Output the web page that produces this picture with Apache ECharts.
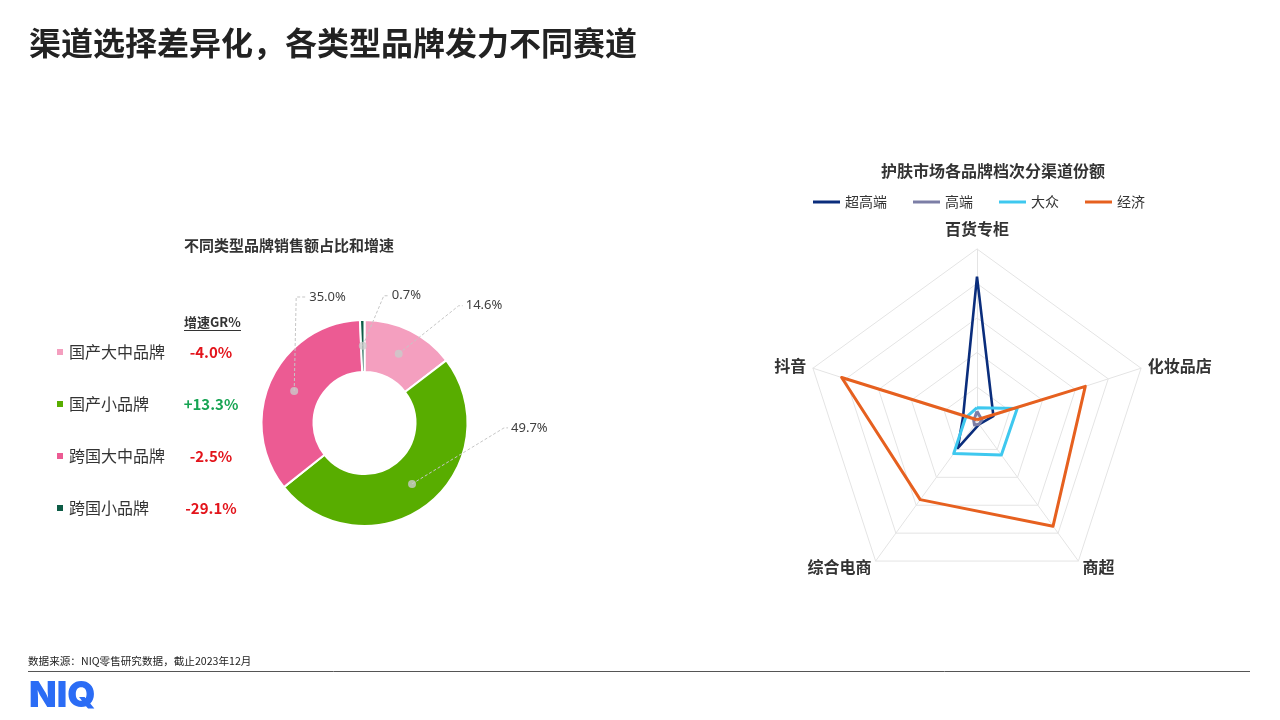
<!DOCTYPE html>
<html><head><meta charset="utf-8">
<script src="https://cdn.jsdelivr.net/npm/echarts@6/dist/echarts.min.js"></script>
<style>html,body{margin:0;padding:0;background:#fff}#c{width:1280px;height:720px}</style>
</head><body><div id="c"></div>
<script>
// ---------- data ----------
const brandNames = ['国产大中品牌', '国产小品牌', '跨国大中品牌', '跨国小品牌'];
const brandShare = [14.6, 49.7, 35.0, 0.7];
const brandGrowth = [-4.0, 13.3, -2.5, -29.1];

const channels = ['百货专柜', '抖音', '综合电商', '商超', '化妆品店'];
const tierNames = ['超高端', '高端', '大众', '经济'];
const tierSuperPremium = [84, 8.5, 19, 2, 10];
const tierPremium = [6, 2, 2.5, 2, 3];
const tierMass = [8, 7, 23, 24, 24.5];
const tierEconomy = [1, 82.5, 56, 75, 66];

// ---------- styles ----------
const FONT = '"Noto Sans CJK SC", "Noto Sans", sans-serif';
const brandColors = ['#f49fbf', '#58ad00', '#ec5b93', '#0d5c46'];
const tierColors = ['#0a2d7c', '#7c7ea6', '#3ec8ef', '#e6601f'];
const donutCenter = [364.5, 423];
const donutRadius = [51, 103];
const dotRatio = 0.75;
const labelOffsets = [
  { bend: [60, -48], end: [64, -48] },
  { bend: [92, -56], end: [96, -56] },
  { bend: [2, -94], end: [12, -94] },
  { bend: [21, -50], end: [26, -50] }
];

const total = brandShare.reduce((a, b) => a + b, 0);
let acc = 0;
const dotData = brandShare.map(v => { const mid = acc + v / 2; acc += v; return [dotRatio, mid]; });
const tierValues = [tierSuperPremium, tierPremium, tierMass, tierEconomy];

const chart = echarts.init(document.getElementById('c'), null, { renderer: 'canvas' });

chart.setOption({
  animation: false,
  textStyle: { fontFamily: FONT },
  title: [
    { text: '渠道选择差异化，各类型品牌发力不同赛道', left: 29, top: 27, padding: 0,
      textStyle: { fontSize: 32, fontWeight: 'bold', color: '#222', fontFamily: FONT } },
    { text: '不同类型品牌销售额占比和增速', left: 184, top: 238, padding: 0,
      textStyle: { fontSize: 15, fontWeight: 'bold', color: '#333', fontFamily: FONT } },
    { text: '护肤市场各品牌档次分渠道份额', left: 881, top: 163, padding: 0,
      textStyle: { fontSize: 16, fontWeight: 'bold', color: '#333', fontFamily: FONT } },
    { text: '增速GR%', left: 184, top: 316, padding: 0,
      textStyle: { fontSize: 13, fontWeight: 'bold', color: '#333', fontFamily: FONT } },
    { text: '数据来源：NIQ零售研究数据，截止2023年12月', left: 28, top: 656, padding: 0,
      textStyle: { fontSize: 10.6, fontWeight: 'normal', color: '#222', fontFamily: FONT } }
  ],
  legend: [
    {
      data: brandNames, orient: 'vertical', left: 55, top: 344, itemGap: 36, padding: 0,
      icon: 'rect', itemWidth: 8, itemHeight: 8, selectedMode: false,
      formatter: function (name) {
        const g = brandGrowth[brandNames.indexOf(name)];
        const txt = (g > 0 ? '+' : '') + g.toFixed(1) + '%';
        return '{n|' + name + '}{' + (g > 0 ? 'up' : 'dn') + '|' + txt + '}';
      },
      textStyle: {
        rich: {
          n: { width: 112, fontSize: 16, color: '#333', fontFamily: FONT, lineHeight: 18 },
          up: { width: 60, align: 'center', fontSize: 15, fontWeight: 'bold', color: '#17a453', fontFamily: FONT, lineHeight: 18 },
          dn: { width: 60, align: 'center', fontSize: 15, fontWeight: 'bold', color: '#e3141b', fontFamily: FONT, lineHeight: 18 }
        }
      }
    },
    {
      data: tierNames, orient: 'horizontal', left: 813, top: 195, itemGap: 26, padding: 0,
      icon: 'rect', itemWidth: 27, itemHeight: 3, selectedMode: false,
      textStyle: { fontSize: 14, color: '#333', fontFamily: FONT }
    }
  ],
  polar: { center: donutCenter, radius: donutRadius[1] },
  angleAxis: { type: 'value', min: 0, max: total, startAngle: 90, clockwise: true, show: false },
  radiusAxis: { type: 'value', min: 0, max: 1, show: false },
  radar: {
    center: [977, 421.5], radius: 172.5, startAngle: 90, splitNumber: 5, shape: 'polygon',
    indicator: channels.map(n => ({ name: n, max: 100, min: 0 })),
    axisName: {
      color: '#333', fontSize: 16, fontWeight: 'bold', fontFamily: FONT,
      formatter: function (name) { return name === channels[0] ? '{t|' + name + '}' : name; },
      rich: { t: { color: '#333', fontSize: 16, fontWeight: 'bold', fontFamily: FONT, padding: [0, 0, 5, 0] } }
    },
    nameGap: 7,
    splitLine: { lineStyle: { color: '#e4e4e4', width: 1 } },
    splitArea: { show: false },
    axisLine: { lineStyle: { color: '#e4e4e4', width: 1 } },
    axisTick: { show: false }, axisLabel: { show: false }
  },
  series: [
    {
      type: 'pie', name: 'share', center: donutCenter, radius: donutRadius, z: 2,
      startAngle: 90, clockwise: true, silent: true,
      label: { show: false }, labelLine: { show: false },
      itemStyle: { borderColor: '#fff', borderWidth: 2 },
      data: brandNames.map((n, i) => ({ name: n, value: brandShare[i], itemStyle: { color: brandColors[i] } }))
    },
    {
      type: 'pie', name: 'labels', center: donutCenter, radius: [0, donutRadius[1] * dotRatio], z: 4,
      startAngle: 90, clockwise: true, silent: true, avoidLabelOverlap: false,
      itemStyle: { color: 'rgba(0,0,0,0)', borderWidth: 0 },
      label: { show: true, position: 'outside', color: '#404040', fontSize: 13, fontFamily: '"Noto Sans", sans-serif',
        formatter: p => brandShare[p.dataIndex].toFixed(1) + '%' },
      labelLine: { show: true, length: 20, length2: 10, smooth: false,
        lineStyle: { color: '#c6c6c6', width: 1, type: [3, 2] } },
      labelLayout: function (p) {
        const pts = p.labelLinePoints;
        if (!pts) return {};
        const s = pts[0], o = labelOffsets[p.dataIndex];
        const b = [s[0] + o.bend[0], s[1] + o.bend[1]];
        const e = [s[0] + o.end[0], s[1] + o.end[1]];
        return { x: e[0] + 3, y: e[1], align: 'left', verticalAlign: 'middle', labelLinePoints: [s, b, e] };
      },
      data: brandNames.map((n, i) => ({ name: n, value: brandShare[i] }))
    },
    {
      type: 'scatter', coordinateSystem: 'polar', silent: true, z: 6,
      symbol: 'circle', symbolSize: 8, itemStyle: { color: '#cbcbcb' },
      data: dotData
    },
    {
      type: 'radar', symbol: 'none', silent: true,
      data: tierNames.map((n, i) => ({
        name: n, value: tierValues[i],
        itemStyle: { color: tierColors[i] },
        lineStyle: { color: tierColors[i], width: i === 0 ? 2.6 : 3 },
        areaStyle: { opacity: 0 }
      }))
    }
  ],
  graphic: [
    { type: 'line', shape: { x1: 184, y1: 330.5, x2: 241, y2: 330.5 }, style: { stroke: '#333', lineWidth: 1 } },
    { type: 'line', shape: { x1: 28, y1: 671.5, x2: 1250, y2: 671.5 }, style: { stroke: '#555', lineWidth: 1 } },
    { type: 'text', left: 29, top: 678, style: { text: 'NIQ', fill: '#2b6cf5', fontSize: 36, fontWeight: 900, fontFamily: 'Inter, "Noto Sans", sans-serif' } }
  ]
});
</script>
</body></html>
